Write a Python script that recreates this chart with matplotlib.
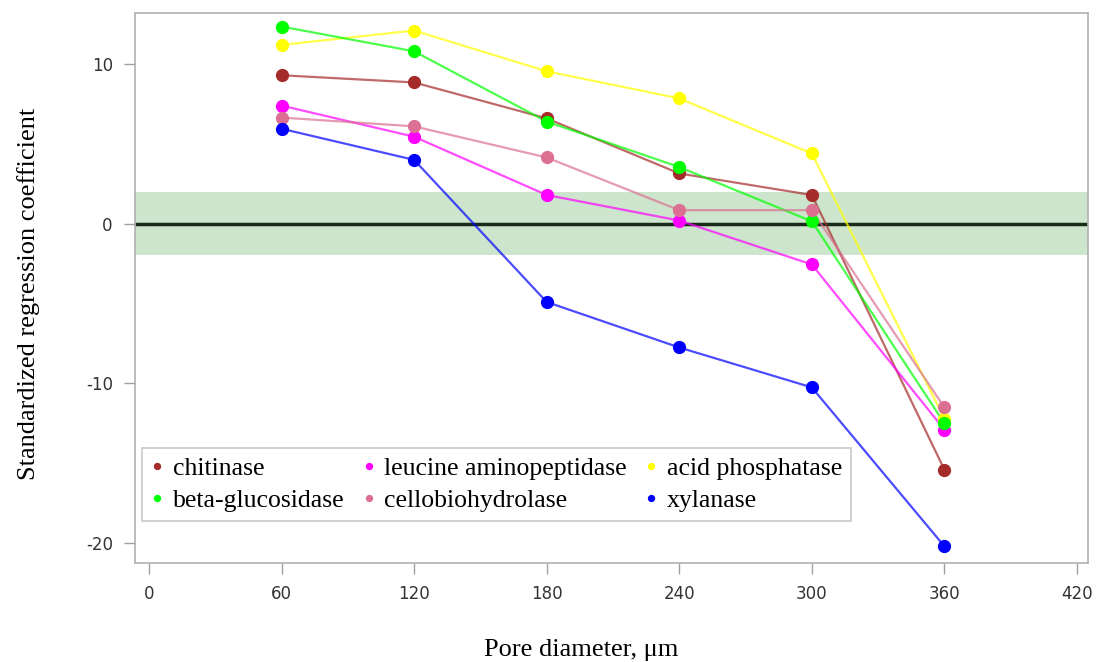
import numpy as np
import matplotlib
matplotlib.use("Agg")
import matplotlib.pyplot as plt

plt.rcParams["axes.unicode_minus"] = False

# pore diameters (um)
pore = [60, 120, 180, 240, 300, 360]

# standardized regression coefficients
chitinase = [9.3, 8.85, 6.6, 3.15, 1.8, -15.4]
leucine = [7.4, 5.45, 1.8, 0.2, -2.55, -12.9]
acid_phos = [11.2, 12.1, 9.55, 7.85, 4.4, -12.2]
beta_gluc = [12.35, 10.8, 6.4, 3.55, 0.15, -12.5]
cellobio = [6.65, 6.1, 4.15, 0.85, 0.85, -11.5]
xylanase = [5.95, 4.0, -4.9, -7.75, -10.25, -20.2]

names = ["chitinase", "leucine aminopeptidase", "acid phosphatase",
         "beta-glucosidase", "cellobiohydrolase", "xylanase"]
series = [chitinase, leucine, acid_phos, beta_gluc, cellobio, xylanase]
colors = ["#a52a2a", "#ff00ff", "#ffff00", "#00ff00", "#db7093", "#0000ff"]

band = 1.96

fig = plt.figure(figsize=(10.96, 6.62), dpi=100)
ax = fig.add_axes([0.1232, 0.1495, 0.8695, 0.8309])

ax.axhspan(-band, band, color="#cde5cd", zorder=0, lw=0)
ax.axhline(0, color="#1a2a1a", lw=2.5, zorder=1)

# lines first (lighter), then markers on top
for vals, c in zip(series, colors):
    ax.plot(pore, vals, color=c, lw=1.6, alpha=0.7, zorder=2)
handles = {}
for vals, c, n in zip(series, colors, names):
    h, = ax.plot(pore, vals, ls="none", marker="o", ms=8.5, color=c,
                 mec=c, zorder=3, label=n)
    handles[n] = h

ax.set_xlim(-6.3, 425)
ax.set_ylim(-21.25, 13.2)
ax.set_xticks([0, 60, 120, 180, 240, 300, 360, 420])
ax.set_yticks([-20, -10, 0, 10])

for s in ax.spines.values():
    s.set_color("#b0b0b0")
    s.set_linewidth(1.2)
ax.tick_params(axis="both", direction="out", length=8, width=1,
               color="#a0a0a0", labelcolor="#333333", labelsize=12,
               pad=8)

ax.set_ylabel("Standardized regression coefficient",
              family="Liberation Serif", fontsize=19)
ax.yaxis.set_label_coords(-0.1, 0.49)
ax.set_xlabel("Pore diameter, μm", family="Liberation Serif", fontsize=19)
ax.xaxis.set_label_coords(0.468, -0.138)

# legend is filled column by column -> order so rows read like the original
order = ["chitinase", "beta-glucosidase", "leucine aminopeptidase",
         "cellobiohydrolase", "acid phosphatase", "xylanase"]
leg = ax.legend([handles[k] for k in order], order, ncol=3,
                loc="lower left", bbox_to_anchor=(0.0073, 0.076),
                borderaxespad=0,
                prop={"family": "Liberation Serif", "size": 18.5},
                markerscale=0.5, handlelength=0.5, handletextpad=0.35,
                columnspacing=0.7, labelspacing=0.35, borderpad=0.35,
                fancybox=False, framealpha=1, edgecolor="#c8c8c8")
leg.get_frame().set_linewidth(1.2)

fig.savefig("out.png", dpi=100)
